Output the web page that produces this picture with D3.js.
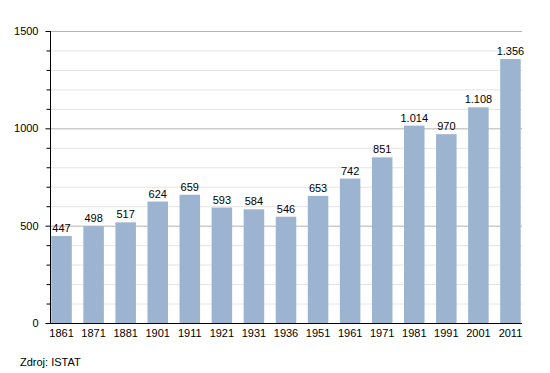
<!DOCTYPE html>
<html>
<head>
<meta charset="utf-8">
<script src="https://cdn.jsdelivr.net/npm/d3@7"></script>
<style>
  body { margin: 0; background: #fff; }
  text { font-family: "Liberation Sans", Arial, sans-serif; }
</style>
</head>
<body>
<div id="chart"></div>
<script>
const years = ["1861", "1871", "1881", "1901", "1911", "1921", "1931", "1936", "1951", "1961", "1971", "1981", "1991", "2001", "2011"];
const population = [447, 498, 517, 624, 659, 593, 584, 546, 653, 742, 851, 1014, 970, 1108, 1356];
const majorTicks = [0, 500, 1000, 1500];
const minorTicks = [100, 200, 300, 400, 600, 700, 800, 900, 1100, 1200, 1300, 1400];
const source = "Zdroj: ISTAT";

const w = 550, h = 373;
const svg = d3.select("#chart").append("svg")
  .attr("width", w)
  .attr("height", h);

const x = d3.scaleBand()
  .domain(years)
  .range([50, 522])
  .paddingInner(0.36)
  .paddingOuter(0.04);

const y = d3.scaleLinear()
  .domain([0, 1500])
  .range([323, 31]);

// thousands with a dot, italian style
const fmt = v => v >= 1000 ? Math.floor(v / 1000) + "." + String(v % 1000).padStart(3, "0") : String(v);

// grid lines
svg.append("g").selectAll("line").data(minorTicks).join("line")
  .attr("x1", 50).attr("x2", 522)
  .attr("y1", d => y(d) + 0.5).attr("y2", d => y(d) + 0.5)
  .style("stroke", "#e4e4e4").style("stroke-width", 1);
svg.append("g").selectAll("line").data(majorTicks.slice(1)).join("line")
  .attr("x1", 50).attr("x2", 522)
  .attr("y1", d => y(d) + 0.5).attr("y2", d => y(d) + 0.5)
  .style("stroke", "#b4b4b4").style("stroke-width", 1);

// bars
svg.append("g").selectAll("rect").data(population).join("rect")
  .attr("x", (d, i) => x(years[i]))
  .attr("y", d => y(d))
  .attr("width", x.bandwidth())
  .attr("height", d => y(0) - y(d))
  .style("fill", "#9cb4cf");

// value labels
svg.append("g").selectAll("text").data(population).join("text")
  .attr("x", (d, i) => x(years[i]) + x.bandwidth() / 2)
  .attr("y", d => y(d) - 4)
  .attr("text-anchor", "middle")
  .attr("font-size", "11px")
  .attr("fill", "#000")
  .text(d => fmt(d));

// y axis
const yAxis = svg.append("g").attr("transform", "translate(50.5,0)");
yAxis.call(d3.axisLeft(y).tickValues(majorTicks).tickSize(5).tickPadding(7).tickFormat(d3.format("d")));
yAxis.selectAll(".tick text").attr("font-size", "11px").attr("fill", "#000").style("font-family", "Liberation Sans, Arial, sans-serif");
yAxis.selectAll("line, path").style("stroke", "#000");
yAxis.select(".domain").attr("d", `M0,${y(1500)}V${y(0)}`);
yAxis.append("g").selectAll("line").data(minorTicks).join("line")
  .attr("x1", -4).attr("x2", 0)
  .attr("y1", d => y(d) + 0.5).attr("y2", d => y(d) + 0.5)
  .style("stroke", "#000");

// x axis
const xAxis = svg.append("g").attr("transform", `translate(0,${y(0) + 0.5})`);
xAxis.call(d3.axisBottom(x).tickSize(0).tickPadding(6));
xAxis.select(".domain").attr("d", "M50,0H522").style("stroke", "#000");
xAxis.selectAll(".tick text").attr("font-size", "11px").attr("fill", "#000").style("font-family", "Liberation Sans, Arial, sans-serif");

svg.append("text")
  .attr("x", 20)
  .attr("y", 366)
  .attr("font-size", "11px")
  .attr("fill", "#000")
  .text(source);
</script>
</body>
</html>
